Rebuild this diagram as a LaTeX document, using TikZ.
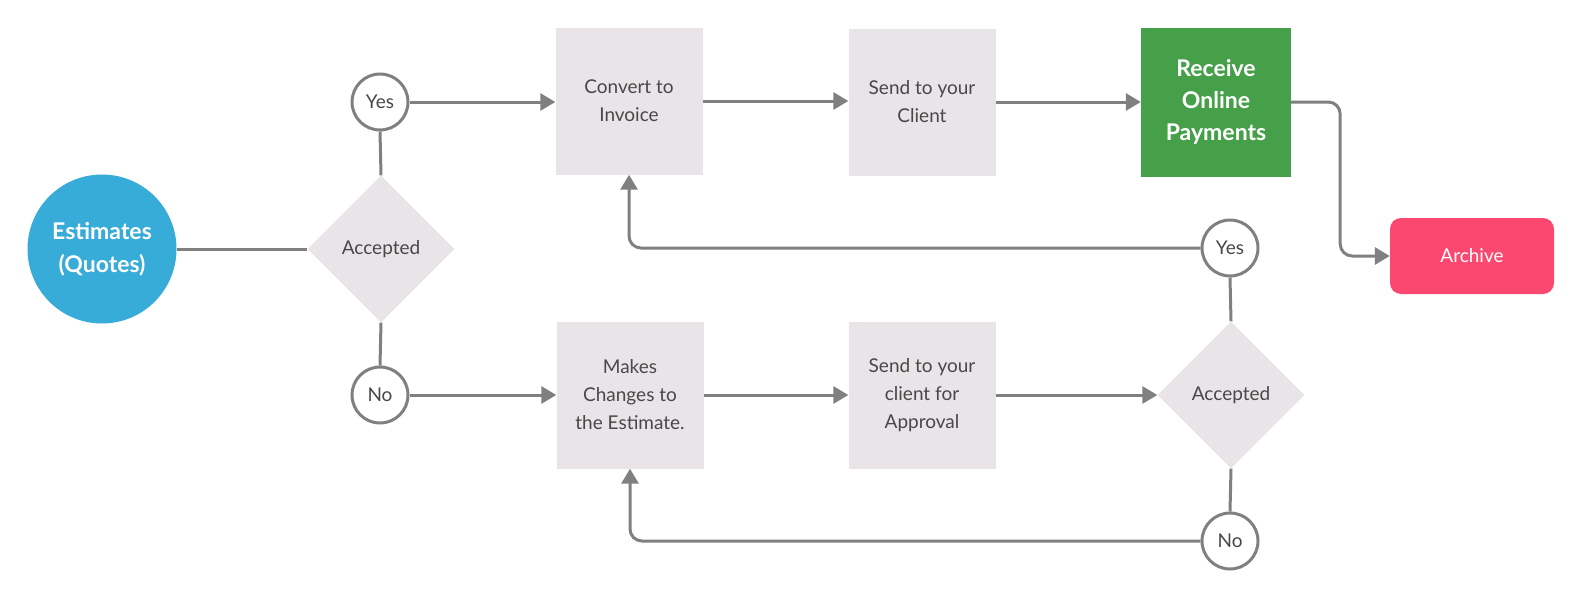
\documentclass[tikz,border=0pt]{standalone}
\usepackage{fontspec}
\setmainfont{Lato}
\usetikzlibrary{shapes.geometric,arrows.meta}
\definecolor{boxgray}{HTML}{E8E4E8}
\definecolor{linegray}{HTML}{808080}
\definecolor{txtgray}{HTML}{484848}
\definecolor{estblue}{HTML}{38ACD8}
\definecolor{paygreen}{HTML}{46A049}
\definecolor{archpink}{HTML}{FA4870}
\tikzset{
  boxtxt/.style={font=\fontsize{19}{28}\selectfont, text=txtgray, align=center},
  procbox/.style={boxtxt, fill=boxgray, minimum width=147pt, minimum height=147pt, inner sep=0pt},
  decision/.style={boxtxt, diamond, fill=boxgray, minimum width=147pt, minimum height=147pt, inner sep=0pt},
  answer/.style={boxtxt, circle, draw=linegray, line width=3pt, fill=white, minimum size=56pt, inner sep=0pt},
  conn/.style={draw=linegray, line width=3pt},
  arr/.style={conn, -{Triangle[length=15pt,width=17pt]}},
}
\begin{document}
\begin{tikzpicture}[x=1pt,y=-1pt]
\useasboundingbox (0,0) rectangle (1582,600);
% nodes
\node[circle, fill=estblue, minimum size=149pt, inner sep=0pt, text=white, align=center,
      font=\fontsize{23}{33}\selectfont\bfseries] (est) at (102,249) {Estimates\\(Quotes)};
\node[decision] (d1) at (381,249) {Accepted};
\node[answer] (yes1) at (380,102) {Yes};
\node[answer] (no1) at (380,395) {No};
\node[procbox] (convert) at (629,101) {Convert to\\Invoice};
\node[procbox] (send1) at (922,102) {Send to your\\Client};
\node[procbox, fill=paygreen, text=white, font=\fontsize{23}{32}\selectfont\bfseries,
      minimum width=150pt, minimum height=149pt] (green) at (1216,102) {Receive\\Online\\Payments};
\node[boxtxt, fill=archpink, text=white, rounded corners=11pt, minimum width=164pt,
      minimum height=76pt, inner sep=0pt] (archive) at (1472,256) {Archive};
\node[procbox] (makes) at (630,395) {Makes\\Changes to\\the Estimate.};
\node[procbox] (send2) at (922,395) {Send to your\\client for\\Approval};
\node[decision] (d2) at (1231,395) {Accepted};
\node[answer] (yes2) at (1230,248) {Yes};
\node[answer] (no2) at (1230,541) {No};
% connectors
\draw[conn] (est.east) -- (d1.west);
\draw[conn] (d1.north) -- (yes1.south);
\draw[conn] (d1.south) -- (no1.north);
\draw[arr] (yes1.east) -- (convert.west |- yes1.east);
\draw[arr] (no1.east) -- (makes.west |- no1.east);
\draw[arr] (convert.east) -- (send1.west |- convert.east);
\draw[arr] (send1.east) -- (green.west |- send1.east);
\draw[arr, rounded corners=12pt] (green.east) -- ++(49,0) |- (archive.west);
\draw[arr] (send2.east) -- (d2.west);
\draw[arr] (makes.east) -- (send2.west |- makes.east);
\draw[conn] (d2.north) -- (yes2.south);
\draw[conn] (d2.south) -- (no2.north);
\draw[arr, rounded corners=12pt] (yes2.west) -| (convert.south);
\draw[arr, rounded corners=12pt] (no2.west) -| (makes.south);
\end{tikzpicture}
\end{document}
